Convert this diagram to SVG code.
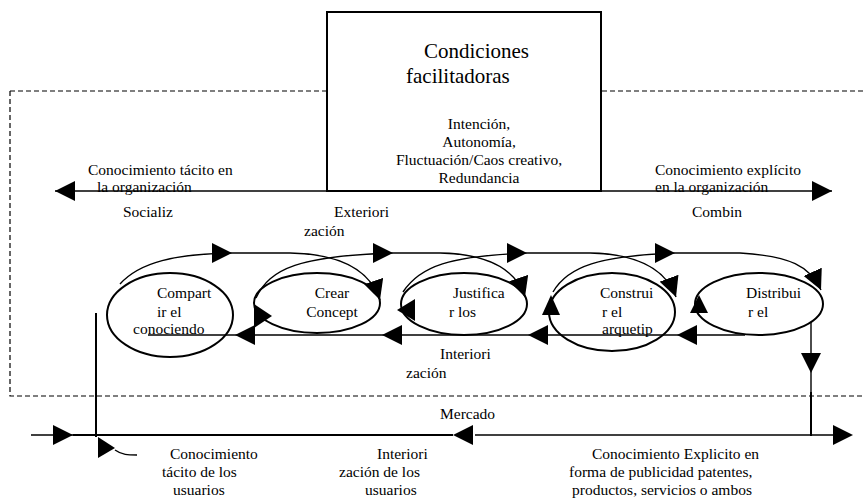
<svg xmlns="http://www.w3.org/2000/svg" xmlns:xlink="http://www.w3.org/1999/xlink" width="864" height="501" viewBox="0 0 864 501">
  <style>
    text { font-family: "Liberation Serif", "Times New Roman", "DejaVu Serif", serif; font-size: 15.5px; fill: #000; }
    .title { font-size: 21px; }
    .mid { text-anchor: middle; }
    .line { fill: none; stroke: #000; stroke-width: 1.4; }
    .thick { fill: none; stroke: #000; stroke-width: 2; }
    .dash { fill: none; stroke: #000; stroke-width: 1.2; stroke-dasharray: 5 3; }
    .node { fill: none; stroke: #000; stroke-width: 2; }
    .head { fill: #000; }
  </style>
  <defs>
    <!-- filled arrowhead, tip at origin, pointing along +x -->
    <path id="ah" d="M0,0 L-20,-10 L-20,10 Z"/>
    <marker id="end" viewBox="0 0 20 20" refX="20" refY="10" markerWidth="20" markerHeight="20" markerUnits="userSpaceOnUse" orient="auto">
      <path d="M0,0 L20,10 L0,20 Z" fill="#000"/>
    </marker>
  </defs>

  <rect width="864" height="501" fill="#fff"/>

  <!-- organisation boundary -->
  <g id="organizacion">
    <path class="dash" d="M10,91 H864 M10,91 V396 H864"/>
  </g>

  <!-- facilitating conditions box -->
  <g id="condiciones">
    <rect x="327" y="12" width="274" height="179" fill="#fff" stroke="#000" stroke-width="2"/>
    <text class="title" x="424" y="58">Condiciones</text>
    <text class="title" x="406" y="83">facilitadoras</text>
    <text class="mid" x="479" y="129">Intención,</text>
    <text class="mid" x="479" y="147">Autonomía,</text>
    <text class="mid" x="479" y="165">Fluctuación/Caos creativo,</text>
    <text class="mid" x="479" y="183">Redundancia</text>
  </g>

  <!-- axis labels -->
  <g id="ejes">
    <text x="88" y="175">Conocimiento tácito en</text>
    <text x="97" y="192">la  organización</text>
    <text x="655" y="175">Conocimiento explícito</text>
    <text x="655" y="192">en la  organización</text>
    <text x="123" y="217">Socializ</text>
    <text x="334" y="217">Exteriori</text>
    <text x="304" y="236">zación</text>
    <text x="692" y="217">Combin</text>
    <text x="440" y="359">Interiori</text>
    <text x="406" y="378">zación</text>
    <text x="440" y="419">Mercado</text>
  </g>

  <!-- phases -->
  <g id="compartir">
    <ellipse class="node" cx="170" cy="315" rx="63" ry="42" stroke-width="1.6"/>
    <text x="157" y="298">Compart</text>
    <text x="157" y="317">ir el</text>
    <text x="133" y="334">conociendo</text>
  </g>
  <g id="crear">
    <ellipse class="node" cx="317" cy="303" rx="63" ry="30"/>
    <text class="mid" x="332" y="298">Crear</text>
    <text class="mid" x="332" y="317">Concept</text>
  </g>
  <g id="justificar">
    <ellipse class="node" cx="464" cy="304" rx="63" ry="31"/>
    <text x="453" y="298">Justifica</text>
    <text x="449" y="317">r los</text>
  </g>
  <g id="construir">
    <ellipse class="node" cx="612" cy="312" rx="63" ry="39"/>
    <text x="600" y="298">Construi</text>
    <text x="602" y="317">r el</text>
    <text x="602" y="334">arquetip</text>
  </g>
  <g id="distribuir">
    <ellipse class="node" cx="759" cy="304" rx="64" ry="31" stroke-width="1.6"/>
    <text x="746" y="298">Distribui</text>
    <text x="748" y="317">r el</text>
  </g>

  <!-- bottom labels -->
  <g id="mercado-textos">
    <text x="170" y="459">Conocimiento</text>
    <text x="162" y="477">tácito de los</text>
    <text x="173" y="495">usuarios</text>
    <text x="377" y="459">Interiori</text>
    <text x="339" y="477">zación de los</text>
    <text x="365" y="495">usuarios</text>
    <text x="592" y="459">Conocimiento Explicito en</text>
    <text x="569" y="477">forma de publicidad patentes,</text>
    <text x="572" y="495">productos, servicios o ambos</text>
  </g>

  <!-- connectors -->
  <g id="conectores">
    <!-- tacit / explicit axis -->
    <path class="line" d="M55,191 H832"/>
    <use href="#ah" class="head" transform="translate(55,191) rotate(180)"/>
    <use href="#ah" class="head" transform="translate(832,191)"/>

    <!-- forward arcs between phases -->
    <path class="line" d="M120,284 C140,262 175,254 232,253 L290,253 C340,254 370,270 380,300" marker-end="url(#end)"/>
    <path class="line" d="M256,298 C270,268 300,256 393,253 L440,253 C490,254 516,270 525,297" marker-end="url(#end)"/>
    <path class="line" d="M403,292 C420,266 450,256 527,253 L590,253 C640,254 666,270 676,297" marker-end="url(#end)"/>
    <path class="line" d="M553,292 C568,266 600,256 675,253 L740,253 C790,256 810,266 821,290" marker-end="url(#end)"/>
    <use href="#ah" class="head" transform="translate(232,253)"/>
    <use href="#ah" class="head" transform="translate(393,253)"/>
    <use href="#ah" class="head" transform="translate(527,253)"/>
    <use href="#ah" class="head" transform="translate(675,253)"/>

    <!-- arrowheads on phase outlines -->
    <polygon class="head" points="272,316 254,304 254,328"/>
    <polygon class="head" points="397,310 415,299 415,321"/>
    <polygon class="head" points="551,295 542,315 560,315"/>
    <polygon class="head" points="699,295 690,313 708,313"/>

    <!-- internalisation feedback -->
    <path class="line" d="M148,335 H745"/>
    <use href="#ah" class="head" transform="translate(235,335) rotate(180)"/>
    <use href="#ah" class="head" transform="translate(382,335) rotate(180)"/>
    <use href="#ah" class="head" transform="translate(528,335) rotate(180)"/>
    <use href="#ah" class="head" transform="translate(677,335) rotate(180)"/>

    <!-- to market -->
    <path class="line" d="M811,322 V392"/>
    <path class="thick" d="M811,392 V436"/>
    <use href="#ah" class="head" transform="translate(811,373) rotate(90)"/>

    <!-- from market -->
    <path class="thick" d="M96,313 V437"/>
    <path class="line" d="M115,450 C122,455 128,455 137,455"/>
    <polygon class="head" points="98,437 115,448 98,458"/>

    <!-- market line -->
    <path class="line" d="M31,435 H73"/>
    <path class="thick" d="M73,435 H453"/>
    <path class="line" d="M475,435 H833"/>
    <use href="#ah" class="head" transform="translate(73,435)"/>
    <use href="#ah" class="head" transform="translate(453,435) rotate(180)"/>
    <use href="#ah" class="head" transform="translate(853,435)"/>
  </g>
</svg>
